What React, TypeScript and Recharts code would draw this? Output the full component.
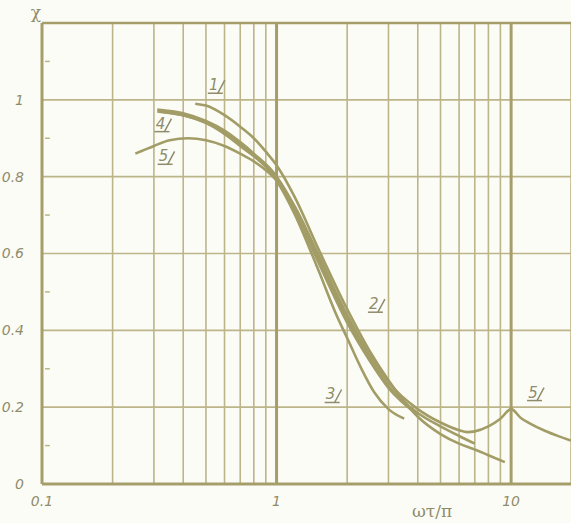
import React from 'react';
import {
  LineChart,
  Line,
  XAxis,
  YAxis,
  CartesianGrid,
  ReferenceLine,
  ReferenceDot,
  Customized,
} from 'recharts';

// curves (x = ωτ/π, y = χ)
const curve1 = [
  { x: 0.45, y: 0.99 }, { x: 0.5, y: 0.985 }, { x: 0.6, y: 0.96 }, { x: 0.7, y: 0.93 },
  { x: 0.8, y: 0.9 }, { x: 0.9, y: 0.865 }, { x: 1, y: 0.83 }, { x: 1.2, y: 0.745 },
  { x: 1.5, y: 0.615 }, { x: 2, y: 0.455 }, { x: 2.5, y: 0.345 }, { x: 3, y: 0.27 },
  { x: 4, y: 0.175 }, { x: 5, y: 0.13 }, { x: 6, y: 0.105 }, { x: 7, y: 0.09 },
  { x: 8, y: 0.075 }, { x: 9.4, y: 0.057 },
];

const curve2 = [
  { x: 0.32, y: 0.97 }, { x: 0.4, y: 0.96 }, { x: 0.5, y: 0.94 }, { x: 0.6, y: 0.915 },
  { x: 0.7, y: 0.885 }, { x: 0.8, y: 0.855 }, { x: 1, y: 0.8 }, { x: 1.2, y: 0.72 },
  { x: 1.5, y: 0.59 }, { x: 2, y: 0.43 }, { x: 2.5, y: 0.325 }, { x: 3, y: 0.255 },
  { x: 4, y: 0.185 }, { x: 5, y: 0.15 }, { x: 6, y: 0.125 }, { x: 7, y: 0.105 },
];

const curve3 = [
  { x: 0.31, y: 0.97 }, { x: 0.5, y: 0.94 }, { x: 0.7, y: 0.88 }, { x: 1, y: 0.79 },
  { x: 1.2, y: 0.7 }, { x: 1.5, y: 0.56 }, { x: 1.8, y: 0.44 }, { x: 2, y: 0.38 },
  { x: 2.3, y: 0.3 }, { x: 2.6, y: 0.24 }, { x: 3, y: 0.195 }, { x: 3.5, y: 0.17 },
];

const curve4 = [
  { x: 0.31, y: 0.975 }, { x: 0.4, y: 0.965 }, { x: 0.5, y: 0.945 }, { x: 0.6, y: 0.92 },
  { x: 0.7, y: 0.89 }, { x: 0.8, y: 0.86 }, { x: 1, y: 0.8 }, { x: 1.2, y: 0.71 },
  { x: 1.5, y: 0.58 }, { x: 2, y: 0.42 }, { x: 2.5, y: 0.32 }, { x: 3, y: 0.25 },
  { x: 4, y: 0.18 },
];

const curve5 = [
  { x: 0.25, y: 0.86 }, { x: 0.3, y: 0.88 }, { x: 0.35, y: 0.895 }, { x: 0.42, y: 0.9 },
  { x: 0.5, y: 0.895 }, { x: 0.6, y: 0.88 }, { x: 0.7, y: 0.86 }, { x: 0.8, y: 0.84 },
  { x: 1, y: 0.79 }, { x: 1.2, y: 0.72 }, { x: 1.5, y: 0.6 }, { x: 2, y: 0.44 },
  { x: 2.5, y: 0.335 }, { x: 3, y: 0.265 }, { x: 4, y: 0.195 }, { x: 5, y: 0.16 },
  { x: 6, y: 0.14 }, { x: 6.5, y: 0.135 }, { x: 7, y: 0.137 }, { x: 8, y: 0.15 },
  { x: 9, y: 0.17 }, { x: 10, y: 0.195 }, { x: 11, y: 0.172 }, { x: 12, y: 0.158 },
  { x: 14, y: 0.138 }, { x: 16, y: 0.124 }, { x: 18, y: 0.113 },
];

const xGrid = [0.1, 0.2, 0.3, 0.4, 0.5, 0.6, 0.7, 0.8, 0.9, 1, 2, 3, 4, 5, 6, 7, 8, 9, 10];
const xLabels = [0.1, 1, 10];
const yTicks = [0, 0.2, 0.4, 0.6, 0.8, 1, 1.2];
const yMinor = [0.1, 0.3, 0.5, 0.7, 0.9, 1.1];

const curveLabels = [
  { text: '1', x: 0.54, y: 1.025 },
  { text: '4', x: 0.32, y: 0.925 },
  { text: '5', x: 0.33, y: 0.84 },
  { text: '2', x: 2.6, y: 0.455 },
  { text: '3', x: 1.7, y: 0.22 },
  { text: '5', x: 12.4, y: 0.225 },
];

const ink = '#a29c66';
const grid = '#bcb589';
const textCol = '#8f8c6c';

const CurveLabel = ({ cx, cy, text }: any) => (
  <g>
    <text x={cx} y={cy} fontSize={15} fontStyle="italic" fill={textCol} textAnchor="middle" fontFamily="DejaVu Sans">
      {text}
    </text>
    <line x1={cx - 6} y1={cy + 3} x2={cx + 9} y2={cy + 3} stroke={textCol} strokeWidth={1.5} />
    <line x1={cx + 4} y1={cy + 3} x2={cx + 11} y2={cy - 10} stroke={textCol} strokeWidth={1.5} />
  </g>
);

const AxisTitles = () => (
  <g fill={textCol} fontFamily="DejaVu Serif">
    <text x={36} y={18} fontSize={17} textAnchor="middle">χ</text>
    <text x={432} y={517} fontSize={17} textAnchor="middle">ωτ/π</text>
  </g>
);

const lines = [curve1, curve2, curve3, curve4, curve5];

export default function App() {
  return (
    <div style={{ position: 'absolute', left: 0, top: 0, width: 571, height: 523, background: '#fcfcf6' }}>
      <LineChart width={571} height={523} margin={{ top: 23, right: 0, left: 0, bottom: 0 }}>
        <CartesianGrid stroke={grid} strokeWidth={1.6} />
        <XAxis
          dataKey="x"
          type="number"
          scale="log"
          domain={[0.1, 18]}
          ticks={xGrid}
          allowDataOverflow
          height={39}
          axisLine={{ stroke: '#a69e6a', strokeWidth: 3 }}
          tickLine={false}
          tickMargin={6}
          interval={0}
          tick={{ fill: textCol, fontSize: 14, fontStyle: 'italic', fontFamily: 'DejaVu Sans' }}
          tickFormatter={(v: number) => (xLabels.includes(v) ? String(v) : '')}
        />
        <YAxis
          type="number"
          domain={[0, 1.2]}
          ticks={yTicks}
          width={42}
          axisLine={{ stroke: '#a69e6a', strokeWidth: 3 }}
          tickLine={false}
          tickMargin={12}
          interval={0}
          tick={{ fill: textCol, fontSize: 14, fontStyle: 'italic', fontFamily: 'DejaVu Sans' }}
          tickFormatter={(v: number) => (v > 1.1 ? '' : String(v))}
        />
        <ReferenceLine x={1} stroke="#a69e6a" strokeWidth={3} />
        <ReferenceLine x={10} stroke="#a69e6a" strokeWidth={3} />
        <ReferenceLine y={1.2} stroke="#a69e6a" strokeWidth={2.5} />
        {yMinor.map((v) => (
          <ReferenceLine
            key={v}
            segment={[{ x: 0.103, y: v }, { x: 0.108, y: v }]}
            stroke={grid}
            strokeWidth={1.5}
          />
        ))}
        {lines.map((d, i) => (
          <Line
            key={i}
            data={d}
            dataKey="y"
            type="monotone"
            stroke={ink}
            strokeWidth={2.6}
            dot={false}
            isAnimationActive={false}
          />
        ))}
        {curveLabels.map((l, i) => (
          <ReferenceDot
            key={i}
            x={l.x}
            y={l.y}
            r={0}
            shape={(p: any) => <CurveLabel {...p} text={l.text} />}
          />
        ))}
        <Customized component={AxisTitles} />
      </LineChart>
    </div>
  );
}
